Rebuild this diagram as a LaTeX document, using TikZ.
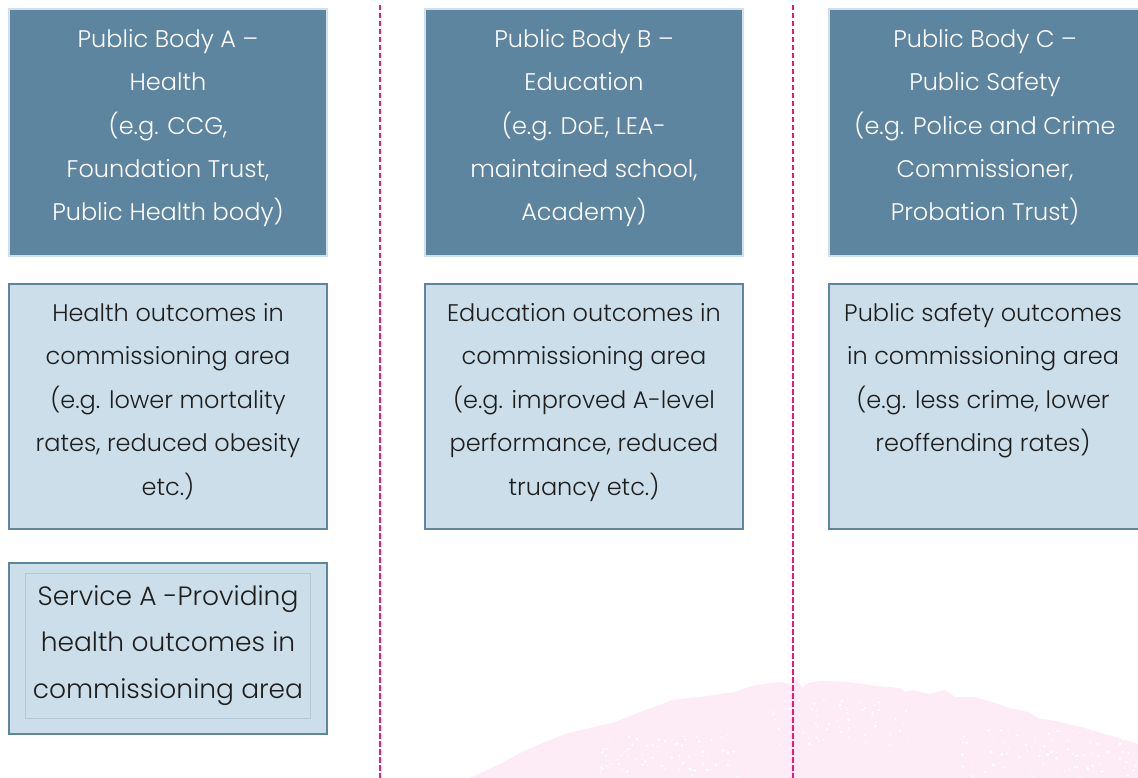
\documentclass[tikz,border=0pt]{standalone}
\usepackage{fontspec}
\setmainfont{Poppins Light}
\definecolor{bodyfill}{HTML}{5E859F}
\definecolor{bodyrim}{HTML}{CFE0EC}
\definecolor{paleblue}{HTML}{CCDEEA}
\definecolor{rimblue}{HTML}{5E849E}
\definecolor{innerrim}{HTML}{B4C7D4}
\definecolor{divpink}{HTML}{F0157F}
\definecolor{blobpink}{HTML}{FDEBF5}
\definecolor{inktext}{HTML}{1E1E1E}
\begin{document}
\begin{tikzpicture}[x=1pt,y=-1pt,
  bodybox/.style={draw=bodyrim, line width=2pt, fill=bodyfill, inner sep=0pt,
    minimum width=318pt, minimum height=247pt},
  outcomebox/.style={draw=rimblue, line width=2pt, fill=paleblue, inner sep=0pt,
    minimum width=318pt, minimum height=245pt},
  servicebox/.style={draw=rimblue, line width=2pt, fill=paleblue, inner sep=0pt,
    minimum width=318pt, minimum height=171pt},
  serviceinner/.style={draw=innerrim, line width=0.8pt, inner sep=0pt,
    minimum width=285pt, minimum height=145pt},
  bodytext/.style={text=white, align=center, inner sep=0pt, anchor=north,
    font=\fontsize{24}{43.4}\selectfont},
  outcometext/.style={text=inktext, align=center, inner sep=0pt, anchor=north,
    font=\fontsize{24}{43.5}\selectfont},
  servicetext/.style={text=inktext, align=center, inner sep=0pt, anchor=north,
    font=\fontsize{26.5}{46.5}\selectfont},
  divider/.style={draw=divpink, line width=2.6pt, dash pattern=on 5.5pt off 2.5pt}]
\useasboundingbox (0,0) rectangle (1138,778);

% pale pink wash rising at the bottom
\path[fill=blobpink] (470,778) -- (500,764) -- (522,752) -- (545,742) -- (565,734)
  -- (590,728) -- (615,722) -- (640,712) -- (662,704) -- (672,700) -- (700,697)
  -- (735,692) -- (752,686) -- (770,683) -- (782,682) -- (790,684) -- (797,678)
  -- (802,688) -- (808,683) -- (820,681) -- (848,682) -- (875,686) -- (900,688)
  -- (905,692) -- (912,690) -- (930,694) -- (945,690) -- (955,697) -- (975,697)
  -- (995,703) -- (1010,708) -- (1028,712) -- (1038,718) -- (1060,722)
  -- (1085,728) -- (1105,734) -- (1125,740) -- (1138,744) -- (1138,778) -- cycle;
\begin{scope}
  \clip (470,778) -- (565,734) -- (662,704) -- (770,683) -- (848,682)
    -- (995,703) -- (1138,744) -- (1138,778) -- cycle;
  \pgfmathsetseed{11}
  \foreach \i in {1,...,90} {
    \pgfmathsetmacro{\px}{600+rnd*140}
    \pgfmathsetmacro{\py}{735+rnd*43}
    \pgfmathsetmacro{\pr}{0.5+rnd*1.3}
    \fill[white] (\px,\py) circle[radius=\pr pt];
  }
  \foreach \i in {1,...,70} {
    \pgfmathsetmacro{\px}{770+rnd*140}
    \pgfmathsetmacro{\py}{700+rnd*45}
    \pgfmathsetmacro{\pr}{0.5+rnd*1.2}
    \fill[white] (\px,\py) circle[radius=\pr pt];
  }
  \foreach \i in {1,...,90} {
    \pgfmathsetmacro{\px}{960+rnd*178}
    \pgfmathsetmacro{\py}{730+rnd*48}
    \pgfmathsetmacro{\pr}{0.5+rnd*1.4}
    \fill[white] (\px,\py) circle[radius=\pr pt];
  }
\end{scope}

% column dividers
\coordinate (divAtop) at (380,5);
\coordinate (divAbot) at (380,778);
\coordinate (divBtop) at (793,5);
\coordinate (divBbot) at (793,778);
\draw[divider] (divAtop) -- (divAbot);
\draw[divider] (divBtop) -- (divBbot);

% public bodies
\node[bodybox] (bodyA) at (168,132.5) {};
\node[bodybox] (bodyB) at (584,132.5) {};
\node[bodybox] (bodyC) at (988,132.5) {};
\node[bodytext] (bodyAtext) at (168,29) {Public Body A –\\Health\\(e.g. CCG,\\Foundation Trust,\\Public Health body)};
\node[bodytext] (bodyBtext) at (584,29) {Public Body B –\\Education\\(e.g. DoE, LEA-\\maintained school,\\Academy)};
\node[bodytext] (bodyCtext) at (985,29) {Public Body C –\\Public Safety\\(e.g. Police and Crime\\Commissioner,\\Probation Trust)};

% outcomes
\node[outcomebox] (outA) at (168,406.5) {};
\node[outcomebox] (outB) at (584,406.5) {};
\node[outcomebox] (outC) at (988,406.5) {};
\node[outcometext] (outAtext) at (168,303) {Health outcomes in\\commissioning area\\(e.g. lower mortality\\rates, reduced obesity\\etc.)};
\node[outcometext] (outBtext) at (584,303) {Education outcomes in\\commissioning area\\(e.g. improved A-level\\performance, reduced\\truancy etc.)};
\node[outcometext] (outCtext) at (983,303) {Public safety outcomes\\in commissioning area\\(e.g. less crime, lower\\reoffending rates)};

% service
\node[servicebox] (servA) at (168,648.5) {};
\node[serviceinner] (servAin) at (168,645.5) {};
\node[servicetext] (servAtext) at (168,585) {Service A -Providing\\health outcomes in\\commissioning area};
\end{tikzpicture}
\end{document}
